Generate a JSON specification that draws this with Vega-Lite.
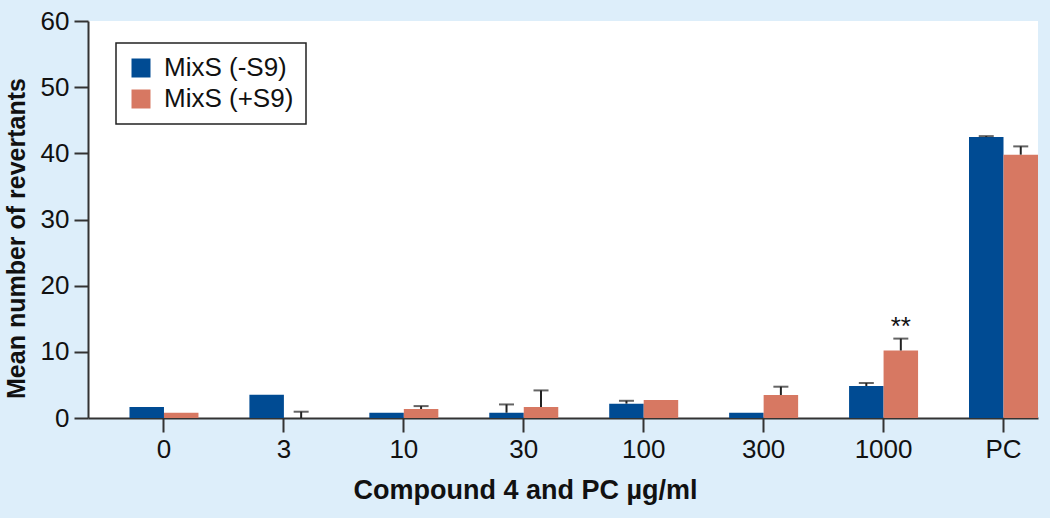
{
  "$schema": "https://vega.github.io/schema/vega-lite/v6.json",
  "width": 950,
  "height": 397,
  "autosize": {"type": "none"},
  "padding": {"left": 88, "top": 21, "right": 12, "bottom": 100},
  "background": "#ddeefa",
  "config": {
    "view": {"fill": "white", "stroke": null},
    "font": "Liberation Sans"
  },
  "data": {
    "values": [
      {"dose": "0", "series": "MixS (-S9)", "value": 1.66, "upper": null},
      {"dose": "0", "series": "MixS (+S9)", "value": 0.8, "upper": null},
      {"dose": "3", "series": "MixS (-S9)", "value": 3.5, "upper": null},
      {"dose": "3", "series": "MixS (+S9)", "value": 0, "upper": 0.95},
      {"dose": "10", "series": "MixS (-S9)", "value": 0.8, "upper": null},
      {"dose": "10", "series": "MixS (+S9)", "value": 1.36, "upper": 1.8},
      {"dose": "30", "series": "MixS (-S9)", "value": 0.8, "upper": 2.05},
      {"dose": "30", "series": "MixS (+S9)", "value": 1.66, "upper": 4.17},
      {"dose": "100", "series": "MixS (-S9)", "value": 2.17, "upper": 2.6},
      {"dose": "100", "series": "MixS (+S9)", "value": 2.72, "upper": null},
      {"dose": "300", "series": "MixS (-S9)", "value": 0.8, "upper": null},
      {"dose": "300", "series": "MixS (+S9)", "value": 3.48, "upper": 4.73},
      {"dose": "1000", "series": "MixS (-S9)", "value": 4.84, "upper": 5.29},
      {"dose": "1000", "series": "MixS (+S9)", "value": 10.2, "upper": 12.0, "sig": "**"},
      {"dose": "PC", "series": "MixS (-S9)", "value": 42.47, "upper": 42.6},
      {"dose": "PC", "series": "MixS (+S9)", "value": 39.8, "upper": 41.05}
    ]
  },
  "encoding": {
    "x": {
      "field": "dose",
      "type": "nominal",
      "sort": ["0", "3", "10", "30", "100", "300", "1000", "PC"],
      "scale": {"paddingInner": 0.4247, "paddingOuter": 0.1729, "align": 1},
      "axis": {
        "title": "Compound 4 and PC µg/ml",
        "labelAngle": 0,
        "labelFontSize": 26,
        "labelColor": "#111",
        "labelPadding": 4,
        "tickSize": 14,
        "tickWidth": 2,
        "tickColor": "#333",
        "domainColor": "#333",
        "domainWidth": 2,
        "titleFontSize": 27,
        "titleFontWeight": "bold",
        "titleColor": "#111",
        "titleX": 437,
        "titleY": 80,
        "titleAlign": "center",
        "titleAnchor": null,
        "titleBaseline": "alphabetic"
      }
    },
    "xOffset": {
      "field": "series",
      "type": "nominal",
      "scale": {"domain": ["MixS (-S9)", "MixS (+S9)"], "paddingInner": 0, "paddingOuter": 0}
    }
  },
  "layer": [
    {
      "mark": {"type": "bar"},
      "encoding": {
        "y": {
          "field": "value",
          "type": "quantitative",
          "scale": {"domain": [0, 60], "nice": false},
          "axis": {
            "title": "Mean number of revertants",
            "values": [0, 10, 20, 30, 40, 50, 60],
            "grid": false,
            "labelFontSize": 26,
            "labelColor": "#111",
            "labelPadding": 5,
            "tickSize": 14,
            "tickWidth": 2,
            "tickColor": "#333",
            "domainColor": "#333",
            "domainWidth": 2,
            "titleFontSize": 25,
            "titleFontWeight": "bold",
            "titleColor": "#111",
            "titleAngle": -90,
            "titleX": -64,
            "titleY": 217,
            "titleAlign": "center",
            "titleAnchor": null,
            "titleBaseline": "alphabetic"
          }
        },
        "color": {
          "field": "series",
          "type": "nominal",
          "scale": {"domain": ["MixS (-S9)", "MixS (+S9)"], "range": ["#004b93", "#d77862"]},
          "legend": {
            "title": null,
            "orient": "none",
            "legendX": 28,
            "legendY": 22,
            "symbolType": "square",
            "symbolSize": 361,
            "symbolOpacity": 1,
            "symbolStrokeWidth": 0,
            "labelFontSize": 26,
            "labelColor": "#111",
            "labelOffset": 10,
            "rowPadding": 5,
            "padding": 12,
            "strokeColor": "#222",
            "fillColor": "white",
            "encode": {"legend": {"update": {"strokeWidth": {"value": 1.5}}}}
          }
        }
      }
    },
    {
      "mark": {"type": "rule", "color": "#222", "strokeWidth": 2},
      "transform": [{"filter": "datum.upper != null"}],
      "encoding": {
        "y": {"field": "value", "type": "quantitative"},
        "y2": {"field": "upper"}
      }
    },
    {
      "mark": {"type": "tick", "color": "#222", "thickness": 2, "size": 15},
      "transform": [{"filter": "datum.upper != null"}],
      "encoding": {
        "y": {"field": "upper", "type": "quantitative"}
      }
    },
    {
      "mark": {"type": "text", "fontSize": 26, "color": "#111", "baseline": "alphabetic", "dy": -4},
      "transform": [{"filter": "datum.sig != null"}],
      "encoding": {
        "y": {"field": "upper", "type": "quantitative"},
        "text": {"field": "sig"}
      }
    }
  ]
}
